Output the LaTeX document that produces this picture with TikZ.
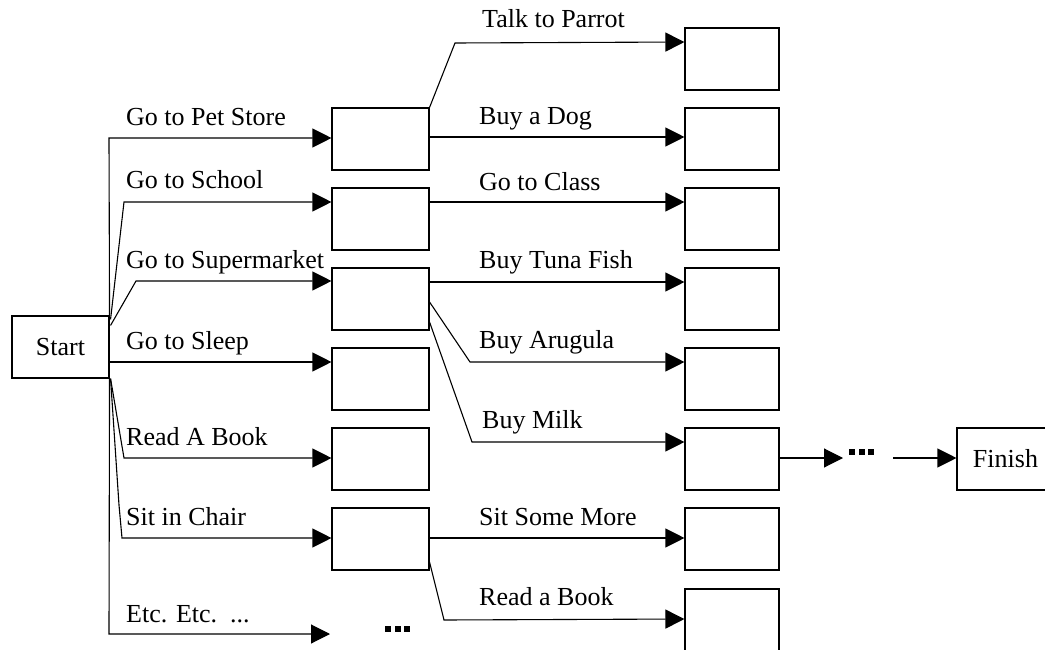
\documentclass[tikz,border=0pt]{standalone}
\usepackage{fontspec}
\setmainfont{Liberation Serif}
\usetikzlibrary{arrows.meta}
\newcommand\sqdots{\rule{6pt}{6pt}\hspace{3.5pt}\rule{6pt}{6pt}\hspace{3.5pt}\rule{6pt}{6pt}}
\begin{document}
\begin{tikzpicture}[x=1pt,y=-1pt,
  box/.style={draw, line width=1.1pt, minimum width=97pt, minimum height=62pt, inner sep=0pt, font=\fontsize{26}{30}\selectfont},
  rbox/.style={box, minimum width=94pt},
  lab/.style={anchor=base west, inner sep=0pt, font=\fontsize{26}{30}\selectfont},
  conn/.style={line width=1.1pt, -{Triangle[length=19pt,width=19pt]}},
  plainline/.style={line width=1.1pt},
  dotnode/.style={inner sep=0pt}]
\useasboundingbox (0,0) rectangle (1045,650);

% boxes
\node[box] (s) at (60.5,347) {Start};
\node[box] (m1) at (380.5,139) {};
\node[box] (m2) at (380.5,219) {};
\node[box] (m3) at (380.5,299) {};
\node[box] (m4) at (380.5,379) {};
\node[box] (m5) at (380.5,459) {};
\node[box] (m6) at (380.5,539) {};
\node[rbox] (r1) at (732,59) {};
\node[rbox] (r2) at (732,139) {};
\node[rbox] (r3) at (732,219) {};
\node[rbox] (r4) at (732,299) {};
\node[rbox] (r5) at (732,379) {};
\node[rbox] (r6) at (732,459) {};
\node[rbox] (r7) at (732,539) {};
\node[rbox] (r8) at (732,620) {};
\node[box] (f) at (1005.5,459) {Finish};

% dots
\node[dotnode] (d0) at (397.5,629) {\sqdots};
\node[dotnode] (d1) at (861.5,452) {\sqdots};
\coordinate (e7) at (330,634);
\coordinate (a1) at (843,459);
\coordinate (a2) at (893,459);

% left connectors
\draw[conn] (s.north east) -- (109,138) -- (m1.west |- 0,138);
\draw[conn] ([shift={(1,4)}]s.north east) -- (124,202) -- (m2.west |- 0,202);
\draw[conn] ([shift={(1,10)}]s.north east) -- (136,281) -- (m3.west |- 0,281);
\draw[conn] (s.east |- 0,362) -- (m4.west |- 0,362);
\draw[conn] ([shift={(1,0)}]s.south east) -- (124,458) -- (m5.west |- 0,458);
\draw[conn] ([shift={(1,0)}]s.south east) -- (119,505) -- (122,538) -- (m6.west |- 0,538);
\draw[conn] (s.south east) -- (109,634) -- (e7);

% middle to right connectors
\draw[conn] (m1.north east) -- (455,43) -- (r1.west |- 0,42);
\draw[conn] (m1.east |- 0,137) -- (r2.west |- 0,137);
\draw[conn] (m2.east |- 0,202) -- (r3.west |- 0,202);
\draw[conn] (m3.east |- 0,282) -- (r4.west |- 0,282);
\draw[conn] (m3.east |- 0,302) -- (470,362) -- (r5.west |- 0,362);
\draw[conn] (m3.east |- 0,322) -- (472,442) -- (r6.west |- 0,442);
\draw[conn] (m6.east |- 0,538) -- (r7.west |- 0,538);
\draw[conn] (m6.east |- 0,562) -- (444,620) -- (r8.west |- 0,619);
\draw[conn] (r6.east |- 0,458) -- (a1 |- 0,458);
\draw[conn] (a2 |- 0,458) -- (f.west |- 0,458);

% labels
\node[lab] (l1) at (126,126) {Go to Pet Store};
\node[lab] (l2) at (126,189) {Go to School};
\node[lab] (l3) at (126,268) {Go to Supermarket};
\node[lab] (l4) at (126,349) {Go to Sleep};
\node[lab] (l5) at (126,445) {Read A Book};
\node[lab] (l6) at (126,525) {Sit in Chair};
\node[lab] (l7) at (126,622) {Etc. Etc.\ \ ...};
\node[lab] (k1) at (482,28) {Talk to Parrot};
\node[lab] (k2) at (479,125) {Buy a Dog};
\node[lab] (k3) at (479,190) {Go to Class};
\node[lab] (k4) at (479,268) {Buy Tuna Fish};
\node[lab] (k5) at (479,348) {Buy Arugula};
\node[lab] (k6) at (482,428) {Buy Milk};
\node[lab] (k7) at (479,525) {Sit Some More};
\node[lab] (k8) at (479,605) {Read a Book};
\end{tikzpicture}
\end{document}
